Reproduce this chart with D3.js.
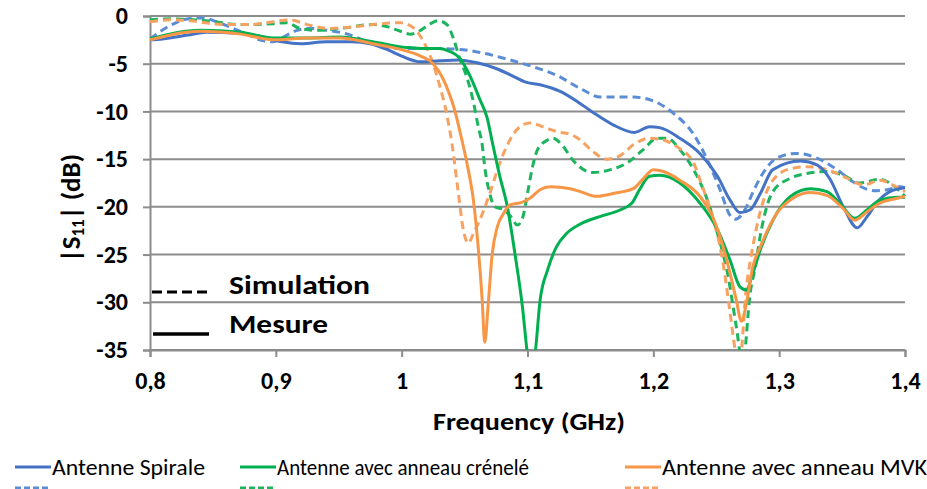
<!DOCTYPE html>
<html>
<head>
<meta charset="utf-8">
<script src="https://cdn.jsdelivr.net/npm/d3@7"></script>
<style>
  body { margin: 0; background: #fff; }
  text { font-family: Carlito, Lato, "Open Sans", sans-serif; }
</style>
</head>
<body>
<div id="chart"></div>
<script>
// tick values
var yTicks = [0, -5, -10, -15, -20, -25, -30, -35];
var xTicks = [0.8, 0.9, 1.0, 1.1, 1.2, 1.3, 1.4];

// Antenne Spirale - mesure
var spiraleMesFreq = [0.800, 0.810, 0.830, 0.845, 0.870, 0.890, 0.905, 0.920, 0.940, 0.960, 0.975, 0.990, 1.000, 1.015, 1.030, 1.045, 1.060, 1.075, 1.090, 1.098, 1.110, 1.126, 1.140, 1.152, 1.168, 1.185, 1.197, 1.205, 1.221, 1.237, 1.251, 1.261, 1.269, 1.277, 1.285, 1.295, 1.317, 1.330, 1.340, 1.351, 1.362, 1.370, 1.378, 1.388, 1.400];
var spiraleMesDb = [-2.5, -2.4, -2.0, -1.7, -1.8, -2.2, -2.7, -2.9, -2.7, -2.7, -2.9, -3.6, -4.2, -4.8, -4.7, -4.6, -4.9, -5.5, -6.4, -6.9, -7.2, -7.9, -9.0, -10.1, -11.4, -12.2, -11.6, -11.7, -12.8, -14.4, -16.8, -19.3, -20.6, -20.3, -18.6, -16.1, -15.2, -15.6, -17.0, -20.0, -22.2, -21.0, -19.5, -18.4, -18.0];

// Antenne Spirale - simulation
var spiraleSimFreq = [0.800, 0.816, 0.832, 0.842, 0.853, 0.866, 0.879, 0.887, 0.898, 0.906, 0.917, 0.927, 0.941, 0.957, 0.977, 0.999, 1.025, 1.046, 1.065, 1.086, 1.104, 1.123, 1.142, 1.158, 1.184, 1.200, 1.216, 1.232, 1.243, 1.253, 1.261, 1.265, 1.274, 1.279, 1.287, 1.298, 1.314, 1.330, 1.346, 1.359, 1.375, 1.386, 1.396, 1.400];
var spiraleSimDb = [-2.4, -1.0, -0.25, -0.2, -0.6, -1.3, -2.0, -2.5, -2.7, -2.2, -1.5, -1.3, -1.5, -1.9, -2.9, -3.4, -3.4, -3.5, -3.9, -4.6, -5.3, -6.2, -7.6, -8.5, -8.5, -8.9, -10.2, -12.4, -15.1, -18.2, -20.9, -21.3, -20.0, -18.5, -16.5, -14.9, -14.4, -14.9, -16.1, -17.4, -18.3, -18.2, -17.9, -18.0];

// Antenne avec anneau crenele - mesure
var creneleMesFreq = [0.800, 0.840, 0.872, 0.898, 0.925, 0.951, 0.977, 1.004, 1.015, 1.030, 1.038, 1.046, 1.054, 1.062, 1.068, 1.072, 1.078, 1.084, 1.090, 1.096, 1.100, 1.103, 1.106, 1.110, 1.116, 1.123, 1.131, 1.142, 1.158, 1.174, 1.183, 1.189, 1.197, 1.205, 1.221, 1.237, 1.251, 1.261, 1.269, 1.274, 1.279, 1.285, 1.295, 1.309, 1.325, 1.338, 1.348, 1.360, 1.370, 1.380, 1.394, 1.400];
var creneleMesDb = [-2.4, -1.5, -1.7, -2.3, -2.3, -2.2, -2.7, -3.3, -3.4, -3.4, -3.7, -4.4, -6.2, -8.7, -10.7, -13.2, -16.8, -20.0, -24.9, -30.5, -35.5, -38.0, -35.5, -29.8, -26.6, -24.2, -22.8, -21.8, -21.0, -20.3, -19.6, -18.2, -16.8, -16.7, -17.5, -19.6, -22.4, -25.6, -28.4, -28.7, -27.0, -24.5, -21.4, -18.9, -18.1, -18.4, -19.6, -21.2, -20.3, -19.3, -19.0, -19.0];

// Antenne avec anneau crenele - simulation
var creneleSimFreq = [0.800, 0.818, 0.845, 0.872, 0.898, 0.909, 0.919, 0.933, 0.951, 0.977, 0.988, 0.999, 1.007, 1.015, 1.023, 1.029, 1.036, 1.041, 1.046, 1.052, 1.057, 1.061, 1.064, 1.066, 1.070, 1.074, 1.081, 1.086, 1.092, 1.096, 1.100, 1.104, 1.108, 1.116, 1.120, 1.128, 1.136, 1.152, 1.166, 1.179, 1.192, 1.203, 1.211, 1.221, 1.232, 1.243, 1.251, 1.259, 1.266, 1.271, 1.277, 1.281, 1.285, 1.295, 1.309, 1.322, 1.338, 1.351, 1.364, 1.380, 1.390, 1.400];
var creneleSimDb = [-0.4, -0.3, -0.5, -0.9, -0.8, -0.7, -1.3, -1.5, -1.3, -0.9, -1.1, -1.6, -1.9, -1.5, -0.8, -0.5, -0.9, -2.3, -4.4, -6.5, -9.0, -11.7, -13.5, -15.8, -18.6, -20.0, -20.3, -20.9, -21.9, -21.2, -18.6, -15.8, -14.0, -13.0, -12.8, -13.6, -15.1, -16.4, -16.1, -15.4, -14.0, -12.8, -12.8, -14.0, -16.1, -19.3, -22.8, -27.0, -32.6, -36.5, -29.0, -26.3, -23.0, -18.4, -17.0, -16.5, -16.3, -16.7, -17.5, -17.1, -17.7, -18.9];

// Antenne avec anneau MVK - mesure
var mvkMesFreq = [0.800, 0.840, 0.872, 0.898, 0.925, 0.951, 0.977, 0.999, 1.015, 1.025, 1.033, 1.038, 1.042, 1.047, 1.052, 1.057, 1.061, 1.064, 1.066, 1.069, 1.072, 1.076, 1.081, 1.086, 1.096, 1.102, 1.110, 1.118, 1.134, 1.142, 1.155, 1.168, 1.184, 1.191, 1.200, 1.208, 1.221, 1.237, 1.247, 1.257, 1.266, 1.270, 1.274, 1.279, 1.285, 1.298, 1.311, 1.325, 1.338, 1.351, 1.360, 1.370, 1.380, 1.394, 1.400];
var mvkMesDb = [-2.5, -1.6, -1.9, -2.5, -2.3, -2.3, -2.9, -3.5, -4.2, -5.0, -6.6, -8.2, -9.8, -12.5, -15.5, -19.3, -24.5, -29.8, -34.2, -29.8, -24.9, -22.1, -20.7, -19.8, -19.5, -19.1, -18.2, -17.9, -18.1, -18.4, -18.9, -18.6, -18.1, -17.2, -16.1, -16.3, -17.2, -18.9, -21.0, -24.9, -29.8, -32.0, -30.1, -26.3, -24.2, -20.7, -19.1, -18.5, -18.8, -20.2, -21.4, -20.5, -19.6, -19.1, -18.9];

// Antenne avec anneau MVK - simulation
var mvkSimFreq = [0.800, 0.816, 0.832, 0.858, 0.879, 0.898, 0.911, 0.925, 0.941, 0.957, 0.977, 0.999, 1.009, 1.017, 1.025, 1.030, 1.036, 1.040, 1.045, 1.049, 1.053, 1.057, 1.062, 1.070, 1.078, 1.086, 1.094, 1.102, 1.112, 1.123, 1.136, 1.142, 1.152, 1.163, 1.174, 1.184, 1.197, 1.208, 1.221, 1.232, 1.239, 1.247, 1.255, 1.261, 1.265, 1.268, 1.274, 1.279, 1.285, 1.295, 1.309, 1.322, 1.338, 1.354, 1.367, 1.380, 1.390, 1.400];
var mvkSimDb = [-0.6, -0.4, -0.5, -0.9, -0.9, -0.6, -0.4, -0.9, -1.3, -1.2, -0.9, -0.7, -1.2, -2.6, -5.0, -7.2, -10.4, -13.4, -18.5, -22.4, -23.8, -22.8, -21.4, -18.6, -15.4, -13.0, -11.6, -11.2, -11.6, -12.1, -12.5, -13.0, -14.2, -15.0, -14.6, -13.5, -12.8, -13.0, -13.9, -15.4, -17.9, -21.0, -25.6, -31.1, -35.0, -37.0, -28.4, -24.2, -20.5, -17.2, -16.0, -15.8, -16.1, -17.0, -17.7, -17.2, -17.7, -18.4];

var legendNames = ["Antenne Spirale", "Antenne avec anneau crénelé", "Antenne avec anneau MVK"];
var colorsMes = ["#4472C4", "#00B050", "#F79646"];
var colorsSim = ["#5B8CD6", "#1DB45E", "#F8A262"];

var series = [
    {freq: spiraleSimFreq, db: spiraleSimDb, color: colorsSim[0], dash: true},
    {freq: creneleSimFreq, db: creneleSimDb, color: colorsSim[1], dash: true},
    {freq: mvkSimFreq, db: mvkSimDb, color: colorsSim[2], dash: true},
    {freq: spiraleMesFreq, db: spiraleMesDb, color: colorsMes[0], dash: false},
    {freq: creneleMesFreq, db: creneleMesDb, color: colorsMes[1], dash: false},
    {freq: mvkMesFreq, db: mvkMesDb, color: colorsMes[2], dash: false}
];

var width = 927, height = 489;
var svg = d3.select("#chart").append("svg")
    .attr("width", width)
    .attr("height", height);

var x = d3.scaleLinear().domain([0.8, 1.4]).range([150, 905]);
var y = d3.scaleLinear().domain([-35, 0]).range([350, 16]);

// horizontal gridlines
svg.append("g").selectAll("line")
    .data(yTicks)
    .enter()
    .append("line")
    .attr("x1", x(0.8))
    .attr("x2", x(1.4))
    .attr("y1", function(d){ return y(d); })
    .attr("y2", function(d){ return y(d); })
    .attr("stroke", "#8c8c8c")
    .attr("stroke-width", 2);

// axes
var yAxis = svg.append("g")
    .attr("transform", "translate(" + x(0.8) + ",0)")
    .call(d3.axisLeft(y).tickValues(yTicks).tickSize(7).tickPadding(15)
        .tickFormat(function(d){ return d === 0 ? "0" : "-" + Math.abs(d); }));

var xAxis = svg.append("g")
    .attr("transform", "translate(0," + y(-35) + ")")
    .call(d3.axisBottom(x).tickValues(xTicks).tickSize(7).tickPadding(15)
        .tickFormat(function(d){ return d3.format("~g")(d).replace(".", ","); }));

[yAxis, xAxis].forEach(function(a){
    a.select(".domain").attr("stroke", "#8c8c8c").attr("stroke-width", 2);
    a.selectAll(".tick line").attr("stroke", "#8c8c8c").attr("stroke-width", 2);
    a.selectAll(".tick text")
        .attr("fill", "#000")
        .style("font-size", "24px")
        .style("font-weight", "bold");
});

// clip to plot area
svg.append("clipPath").attr("id", "plot-clip")
    .append("rect")
    .attr("x", x(0.8))
    .attr("y", 0)
    .attr("width", x(1.4) - x(0.8) + 4)
    .attr("height", y(-35) - 0);

var line = d3.line()
    .x(function(d){ return x(d[0]); })
    .y(function(d){ return y(d[1]); })
    .curve(d3.curveMonotoneX);

svg.append("g")
    .attr("clip-path", "url(#plot-clip)")
    .selectAll("path")
    .data(series)
    .enter()
    .append("path")
    .attr("d", function(s){ return line(d3.zip(s.freq, s.db)); })
    .attr("fill", "none")
    .attr("stroke", function(s){ return s.color; })
    .attr("stroke-width", 3)
    .attr("stroke-dasharray", function(s){ return s.dash ? "8,5" : null; });

// inner legend: Simulation / Mesure
svg.append("line")
    .attr("x1", 152).attr("x2", 207).attr("y1", 292).attr("y2", 292)
    .attr("stroke", "#000").attr("stroke-width", 3)
    .attr("stroke-dasharray", "10,5");
svg.append("line")
    .attr("x1", 153).attr("x2", 209).attr("y1", 334).attr("y2", 334)
    .attr("stroke", "#000").attr("stroke-width", 3.5);
svg.append("text")
    .text("Simulation")
    .attr("x", 229).attr("y", 294)
    .style("font-size", "27px").style("font-weight", "bold")
    .attr("textLength", 141).attr("lengthAdjust", "spacingAndGlyphs");
svg.append("text")
    .text("Mesure")
    .attr("x", 229).attr("y", 333)
    .style("font-size", "27px").style("font-weight", "bold")
    .attr("textLength", 99).attr("lengthAdjust", "spacingAndGlyphs");

// axis titles
svg.append("text")
    .text("Frequency (GHz)")
    .attr("x", 529).attr("y", 430)
    .attr("text-anchor", "middle")
    .style("font-size", "25px").style("font-weight", "bold")
    .attr("textLength", 192).attr("lengthAdjust", "spacingAndGlyphs");

var yTitle = svg.append("text")
    .attr("transform", "translate(80,208) rotate(-90)")
    .attr("text-anchor", "middle")
    .style("font-size", "27px").style("font-weight", "bold");
yTitle.append("tspan").text("|S");
yTitle.append("tspan").text("11").style("font-size", "17px").attr("baseline-shift", "-25%");
yTitle.append("tspan").text("| (dB)");

// bottom legend
var legendX = [15, 240, 625];
var legend = svg.append("g").selectAll("g")
    .data(legendNames)
    .enter()
    .append("g");

legend.append("line")
    .attr("x1", function(d, i){ return legendX[i]; })
    .attr("x2", function(d, i){ return legendX[i] + 36; })
    .attr("y1", 467).attr("y2", 467)
    .attr("stroke", function(d, i){ return colorsMes[i]; })
    .attr("stroke-width", 3);

legend.append("line")
    .attr("x1", function(d, i){ return legendX[i]; })
    .attr("x2", function(d, i){ return legendX[i] + 36; })
    .attr("y1", 488).attr("y2", 488)
    .attr("stroke", function(d, i){ return colorsSim[i]; })
    .attr("stroke-width", 3)
    .attr("stroke-dasharray", "6,3");

var legendW = [153, 252, 265];
legend.append("text")
    .text(function(d){ return d; })
    .attr("x", function(d, i){ return legendX[i] + 37; })
    .attr("y", 475)
    .style("font-size", "22px")
    .attr("textLength", function(d, i){ return legendW[i]; })
    .attr("lengthAdjust", "spacingAndGlyphs");
</script>
</body>
</html>
